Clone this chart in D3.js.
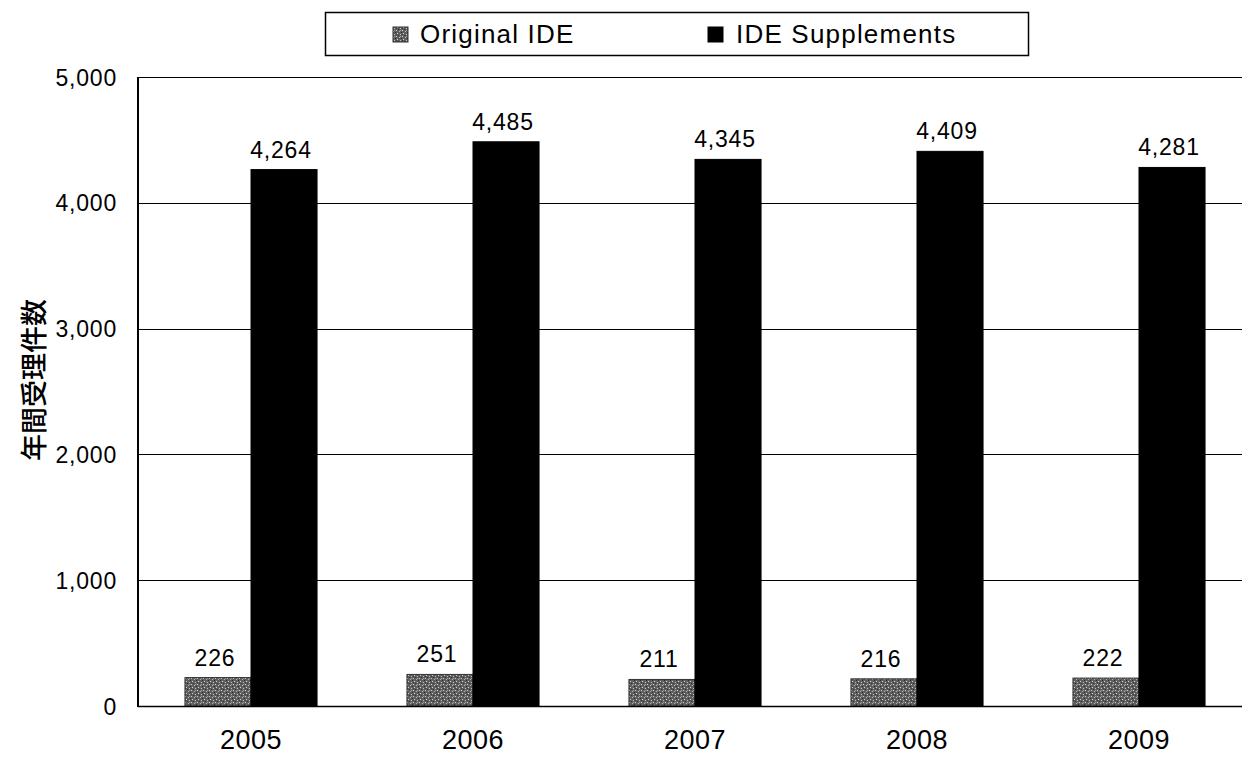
<!DOCTYPE html>
<html>
<head>
<meta charset="utf-8">
<script src="https://cdn.jsdelivr.net/npm/d3@7"></script>
<style>
  html, body { margin: 0; padding: 0; background: #fff; }
  svg { display: block; }
  text { fill: #000; }
</style>
</head>
<body>
<svg id="chart" width="1242" height="759"></svg>
<script>
// Annual counts of IDE submissions received, by year
const years = ["2005", "2006", "2007", "2008", "2009"];
const seriesNames = ["Original IDE", "IDE Supplements"];
const originalIDE = [226, 251, 211, 216, 222];
const ideSupplements = [4264, 4485, 4345, 4409, 4281];
const yTicks = [0, 1000, 2000, 3000, 4000, 5000];
const yTitle = "年間受理件数";

const W = 1242, H = 759;
const plot = { left: 138, right: 1250, top: 77, bottom: 706 };
const numFont = "'Liberation Sans', Arial, sans-serif";

const svg = d3.select("#chart");

// Stippled grey fill for the original IDE bars
const defs = svg.append("defs");
const pat = defs.append("pattern")
  .attr("id", "stipple").attr("patternUnits", "userSpaceOnUse")
  .attr("width", 6).attr("height", 6);
pat.append("rect").attr("width", 6).attr("height", 6).attr("fill", "#5e5e5e");
[[0,0,"#d0d0d0"],[3,1,"#b8b8b8"],[1,3,"#d8d8d8"],[4,4,"#c4c4c4"],[2,5,"#303030"],[5,2,"#2a2a2a"],[0,4,"#3a3a3a"],[4,0,"#a0a0a0"]]
  .forEach(([x, y, c]) => pat.append("rect").attr("x", x).attr("y", y).attr("width", 1).attr("height", 1).attr("fill", c));

const x = d3.scaleBand().domain(years).range([plot.left + 2, plot.right])
  .paddingInner(0.405).paddingOuter(0.2025);
const xs = d3.scaleBand().domain(seriesNames).range([0, x.bandwidth()]);
const y = d3.scaleLinear().domain([0, 5000]).range([plot.bottom, plot.top]);

// Horizontal gridlines (top one doubles as the plot border)
svg.append("g").selectAll("line").data(yTicks.filter(d => d > 0)).join("line")
  .attr("x1", plot.left).attr("x2", W)
  .attr("y1", d => Math.round(y(d)) + 0.5).attr("y2", d => Math.round(y(d)) + 0.5)
  .attr("stroke", "#000").attr("stroke-width", 1.2);

// Y axis labels
const yAxis = svg.append("g").attr("transform", `translate(${plot.left},0)`)
  .call(d3.axisLeft(y).tickValues(yTicks).tickSize(0).tickPadding(21).tickFormat(d3.format(",")));
yAxis.select(".domain").remove();
yAxis.selectAll("text").attr("font-family", numFont).attr("font-size", 23)
  .attr("letter-spacing", 0.8).attr("dy", "0.35em");

// Y axis title
svg.append("text")
  .attr("transform", `translate(44,380) rotate(-90)`)
  .attr("text-anchor", "middle")
  .attr("font-family", "'Noto Sans CJK JP', sans-serif").attr("font-size", 27)
  .attr("font-weight", 500)
  .text(yTitle);

// Bars
const rows = years.map((yr, i) => ({ year: yr, values: [
  { name: seriesNames[0], value: originalIDE[i] },
  { name: seriesNames[1], value: ideSupplements[i] }
]}));

const groups = svg.append("g").selectAll("g").data(rows).join("g")
  .attr("transform", d => `translate(${x(d.year)},0)`);

groups.selectAll("rect").data(d => d.values).join("rect")
  .attr("x", d => xs(d.name))
  .attr("y", d => y(d.value))
  .attr("width", xs.bandwidth())
  .attr("height", d => y(0) - y(d.value))
  .attr("fill", d => d.name === seriesNames[0] ? "url(#stipple)" : "#000")
  .attr("stroke", d => d.name === seriesNames[0] ? "#333" : "#000")
  .attr("stroke-width", 1);

// Value labels
groups.selectAll("text").data(d => d.values).join("text")
  .attr("x", d => xs(d.name) + xs.bandwidth() / 2 - 3)
  .attr("y", d => y(d.value) - 12)
  .attr("text-anchor", "middle")
  .attr("font-family", numFont).attr("font-size", 23).attr("letter-spacing", 0.8)
  .text(d => d3.format(",")(d.value));

// Axis lines
svg.append("line").attr("x1", plot.left).attr("x2", plot.left)
  .attr("y1", plot.top).attr("y2", plot.bottom + 1)
  .attr("stroke", "#000").attr("stroke-width", 2);
svg.append("line").attr("x1", plot.left).attr("x2", W)
  .attr("y1", plot.bottom + 0.5).attr("y2", plot.bottom + 0.5)
  .attr("stroke", "#000").attr("stroke-width", 1.5);

// X axis labels
const xAxis = svg.append("g").attr("transform", `translate(0,${plot.bottom})`)
  .call(d3.axisBottom(x).tickSize(0).tickPadding(24));
xAxis.select(".domain").remove();
xAxis.selectAll("text").attr("font-family", numFont).attr("font-size", 27)
  .attr("letter-spacing", 0.5).attr("dy", "0.71em");

// Legend
const legend = svg.append("g");
legend.append("rect").attr("x", 325.5).attr("y", 12.5).attr("width", 703).attr("height", 43)
  .attr("fill", "#fff").attr("stroke", "#000").attr("stroke-width", 1.5);
const legendItems = [
  { name: seriesNames[0], sx: 393, tx: 420, fill: "url(#stipple)", stroke: "#333" },
  { name: seriesNames[1], sx: 708, tx: 736, fill: "#000", stroke: "#000" }
];
const li = legend.selectAll("g").data(legendItems).join("g");
li.append("rect").attr("x", d => d.sx).attr("y", 27).attr("width", 15).attr("height", 15)
  .attr("fill", d => d.fill).attr("stroke", d => d.stroke);
li.append("text").attr("x", d => d.tx).attr("y", 43)
  .attr("font-family", numFont).attr("font-size", 26).attr("letter-spacing", 1.2)
  .text(d => d.name);
</script>
</body>
</html>
